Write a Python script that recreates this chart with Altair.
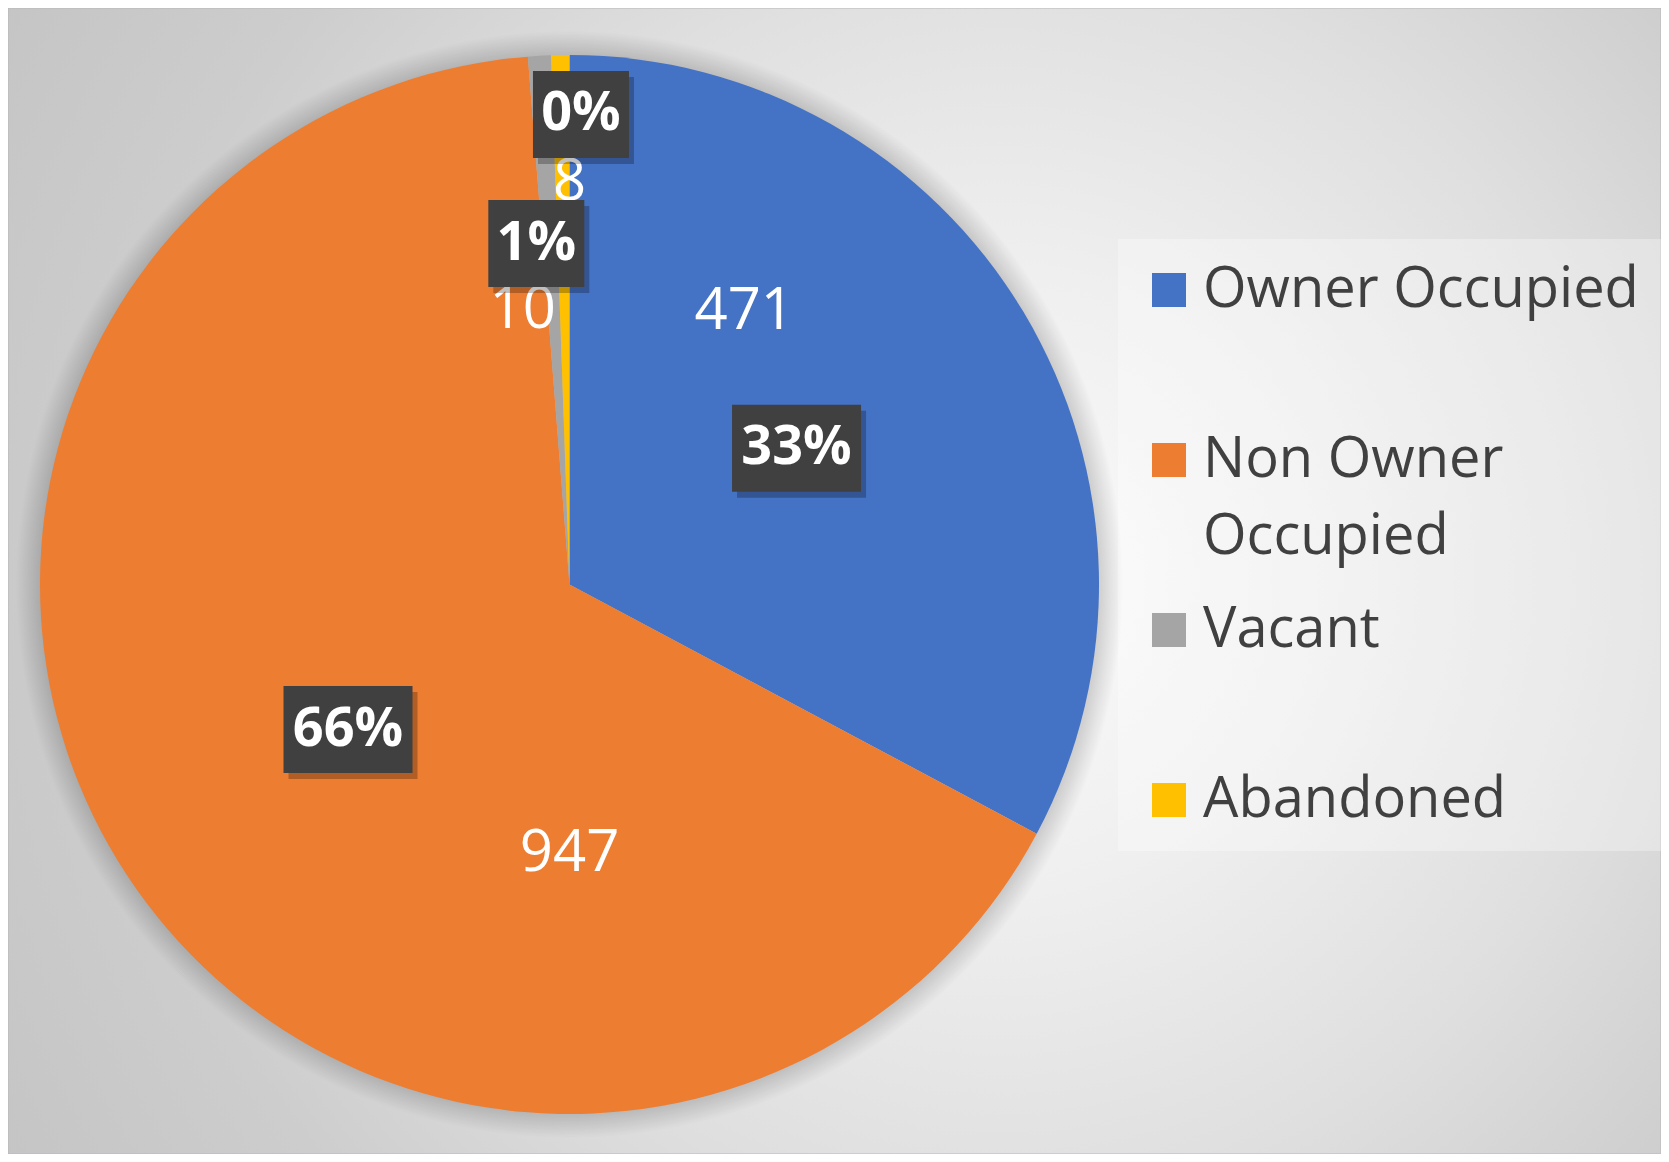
import altair as alt
import pandas as pd

# ---- data ----
categories = ["Owner Occupied", "Non Owner Occupied", "Vacant", "Abandoned"]
values = [471, 947, 10, 8]
pct_labels = ["33%", "66%", "1%", "0%"]
colors = ["#4472C4", "#ED7D31", "#A5A5A5", "#FFC000"]

# ---- label layout (angle offset from slice middle in degrees, radius as fraction of pie radius) ----
pct_angle_offset = [0.0, 0.0, -2.3, 2.4]
pct_radius_frac = [0.50, 0.50, 0.647, 0.888]
val_angle_offset = [-26.4, -56.8, -6.45, 1.0]
val_radius_frac = [0.612, 0.509, 0.524, 0.758]

W, H = 1653, 1146
CX, CY, R = 561.5, 576.5, 529.5

df = pd.DataFrame({
    "category": categories,
    "value": values,
    "idx": list(range(len(categories))),
    "pct": pct_labels,
    "pao": pct_angle_offset,
    "prf": pct_radius_frac,
    "vao": val_angle_offset,
    "vrf": val_radius_frac,
})

base = alt.Chart(df)

bg_grad = alt.Gradient(
    gradient="radial",
    x1=0.6, y1=0.5, r1=0, x2=0.6, y2=0.5, r2=0.75,
    stops=[
        alt.GradientStop(offset=0, color="#fbfbfb"),
        alt.GradientStop(offset=0.25, color="#efefef"),
        alt.GradientStop(offset=0.5, color="#dfdfdf"),
        alt.GradientStop(offset=0.72, color="#cdcdcd"),
        alt.GradientStop(offset=1, color="#c2c2c2"),
    ],
)
background = alt.Chart(pd.DataFrame({"k": [0]})).mark_rect(
    fill=bg_grad, stroke="#b8b8b8", strokeWidth=1
).encode(
    x=alt.value(0), x2=alt.value(W), y=alt.value(0), y2=alt.value(H)
)

pie = base.mark_arc(radius=R).encode(
    theta=alt.Theta("value:Q", stack=True),
    order=alt.Order("idx:Q", sort="ascending"),
    x=alt.value(CX),
    y=alt.value(CY),
    color=alt.Color(
        "category:N",
        scale=alt.Scale(domain=categories, range=colors),
        sort=categories,
        legend=alt.Legend(
            title=None,
            orient="none",
            legendX=1110,
            legendY=231,
            labelExpr="datum.label == 'Non Owner Occupied' ? ['Non Owner', 'Occupied'] : datum.label",
        ),
    ),
)

SR = R + 24
shadow_grad = alt.Gradient(
    gradient="radial",
    x1=0.5, y1=0.5, r1=0, x2=0.5, y2=0.5, r2=0.5,
    stops=[
        alt.GradientStop(offset=0, color="rgba(0,0,0,0.22)"),
        alt.GradientStop(offset=R / SR, color="rgba(0,0,0,0.16)"),
        alt.GradientStop(offset=1, color="rgba(0,0,0,0)"),
    ],
)
shadow = alt.Chart(pd.DataFrame({"k": [0]})).mark_arc(
    radius=SR, theta=0, theta2=6.2832, fill=shadow_grad
).encode(x=alt.value(CX), y=alt.value(CY))

lab = base.transform_joinaggregate(
    total="sum(value)"
).transform_window(
    cum="sum(value)", sort=[alt.SortField("idx")], frame=[None, 0]
).transform_calculate(
    mid="(datum.cum - datum.value/2) / datum.total * 2 * PI",
).transform_calculate(
    pa="datum.mid + datum.pao * PI / 180",
    va="datum.mid + datum.vao * PI / 180",
).transform_calculate(
    px=f"{CX} + {R} * datum.prf * sin(datum.pa)",
    py=f"{CY} - {R} * datum.prf * cos(datum.pa)",
    vx=f"{CX} + {R} * datum.vrf * sin(datum.va)",
    vy=f"{CY} - {R} * datum.vrf * cos(datum.va)",
    bw="30 + 33 * length(datum.pct)",
).transform_calculate(
    bx1="datum.px - datum.bw/2",
    bx2="datum.px + datum.bw/2",
    by1="datum.py - 43.5",
    by2="datum.py + 43.5",
    sx1="datum.px - datum.bw/2 + 5",
    sx2="datum.px + datum.bw/2 + 5",
    sy1="datum.py - 43.5 + 6",
    sy2="datum.py + 43.5 + 6",
)

val_text = lab.mark_text(
    font="Open Sans", fontSize=58, color="white", align="center", baseline="middle"
).encode(
    x=alt.X("vx:Q", scale=None, axis=None),
    y=alt.Y("vy:Q", scale=None, axis=None),
    text="value:Q",
)

box_shadow = lab.mark_rect(color="black", opacity=0.25).encode(
    x=alt.X("sx1:Q", scale=None, axis=None),
    x2="sx2:Q",
    y=alt.Y("sy1:Q", scale=None, axis=None),
    y2="sy2:Q",
)

box = lab.mark_rect(color="#404040").encode(
    x=alt.X("bx1:Q", scale=None, axis=None),
    x2="bx2:Q",
    y=alt.Y("by1:Q", scale=None, axis=None),
    y2="by2:Q",
)

pct_text = lab.mark_text(
    font="Open Sans", fontSize=54, fontWeight="bold", color="white",
    align="center", baseline="middle",
).encode(
    x=alt.X("px:Q", scale=None, axis=None),
    y=alt.Y("py:Q", scale=None, axis=None),
    text="pct:N",
)

chart = alt.layer(background, shadow, pie, val_text, box_shadow, box, pct_text).properties(
    width=W,
    height=H,
    autosize=alt.AutoSizeParams(type="none"),
    padding=0,
).configure(
    style={"guide-label": {"lineHeight": 77}},
).configure_view(
    stroke=None,
).configure_legend(
    labelFont="Open Sans",
    labelFontSize=56,
    labelColor="#404040",
    labelLimit=600,
    labelOffset=6,
    symbolType="square",
    symbolSize=1156,
    symbolStrokeWidth=0,
    gridAlign="all",
    rowPadding=37,
    padding=23,
    fillColor="rgba(255,255,255,0.3)",
)

chart.save("out.html", embed_options={"renderer": "svg", "actions": False})
